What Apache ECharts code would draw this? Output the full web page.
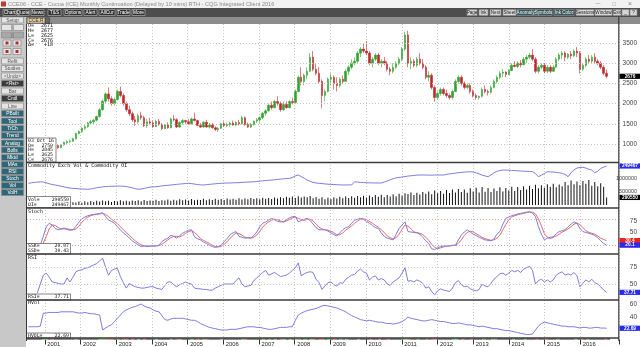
<!DOCTYPE html>
<html><head><meta charset="utf-8">
<script src="https://cdn.jsdelivr.net/npm/echarts@6/dist/echarts.min.js"></script>
<style>html,body{margin:0;padding:0;background:#fff;overflow:hidden}#c{width:640px;height:347px}</style>
</head><body><div id="c"></div>
<script>
// ---------- categories (monthly, Jul 2000 .. Jan 2017) ----------
const months = [];
for (let y = 2000, m = 7; months.length < 199;) { months.push(y + '-' + String(m).padStart(2, '0')); m++; if (m > 12) { m = 1; y++; } }
const yearTicks = ['2001','2002','2003','2004','2005','2006','2007','2008','2009','2010','2011','2012','2013','2014','2015','2016'];

// ---------- price bars [open, high, low, close], Jul 2000 .. Oct 2016 ----------
const candles = [
[860,900,820,840],[840,860,780,800],[800,850,780,830],[830,850,760,790],[790,800,720,740],[740,860,730,850],
[850,1080,840,1050],[1050,1150,1020,1100],[1100,1120,960,990],[990,1020,930,960],[960,980,880,910],[910,1000,900,980],[980,1060,960,1040],[1040,1090,1000,1060],[1060,1110,1020,1070],[1070,1160,1050,1130],[1130,1280,1110,1260],[1260,1340,1230,1310],
[1310,1420,1280,1390],[1390,1480,1350,1430],[1430,1550,1400,1520],[1520,1600,1470,1550],[1550,1620,1480,1590],[1590,1700,1560,1680],[1680,1880,1650,1850],[1850,2100,1820,2060],[2060,2280,2000,2240],[2240,2400,2050,2120],[2120,2180,1950,2000],[2000,2150,1950,2100],
[2100,2350,2080,2300],[2300,2420,2150,2200],[2200,2250,1950,2000],[2000,2050,1800,1850],[1850,1950,1700,1750],[1750,1800,1550,1600],[1600,1700,1450,1550],[1550,1750,1500,1700],[1700,1800,1600,1650],[1650,1700,1420,1450],[1450,1620,1400,1550],[1550,1650,1480,1520],
[1520,1580,1400,1430],[1430,1600,1420,1560],[1560,1620,1450,1480],[1480,1520,1350,1380],[1380,1500,1360,1470],[1470,1540,1380,1400],[1400,1650,1390,1620],[1620,1720,1560,1600],[1600,1640,1400,1420],[1420,1560,1400,1530],[1530,1620,1480,1580],[1580,1600,1500,1550],
[1550,1620,1480,1500],[1500,1650,1480,1620],[1620,1780,1560,1580],[1580,1600,1440,1460],[1460,1520,1400,1420],[1420,1560,1400,1540],[1540,1600,1400,1420],[1420,1520,1380,1470],[1470,1520,1380,1400],[1400,1440,1320,1360],[1360,1420,1300,1390],[1390,1530,1370,1500],
[1500,1560,1420,1460],[1460,1530,1420,1480],[1480,1550,1430,1520],[1520,1580,1450,1470],[1470,1560,1440,1530],[1530,1600,1460,1500],[1500,1700,1480,1650],[1650,1680,1450,1480],[1480,1530,1400,1420],[1420,1520,1400,1480],[1480,1580,1460,1570],[1570,1640,1520,1600],
[1600,1680,1530,1650],[1650,1800,1620,1760],[1760,1860,1700,1820],[1820,2000,1800,1960],[1960,2050,1850,1900],[1900,2100,1880,2050],[2050,2180,1950,2000],[2000,2050,1800,1850],[1850,2050,1820,1980],[1980,2060,1880,1900],[1900,2080,1880,2050],[2050,2150,1980,2030],
[2030,2350,2000,2300],[2300,2700,2280,2650],[2650,2900,2450,2550],[2550,2750,2450,2700],[2700,2900,2600,2800],[2800,3250,2780,3150],[3150,3300,2800,2850],[2850,3000,2700,2750],[2750,2900,2500,2550],[2550,2600,1880,2200],[2200,2350,2050,2300],[2300,2650,2280,2600],
[2600,2750,2450,2650],[2650,2700,2350,2500],[2500,2650,2300,2450],[2450,2650,2400,2600],[2600,2700,2500,2550],[2550,2850,2550,2800],[2800,2950,2700,2900],[2900,3100,2850,3000],[3000,3150,2950,3050],[3050,3300,3000,3250],[3250,3400,3150,3350],[3350,3500,3250,3300],
[3300,3550,3200,3250],[3250,3300,2950,3000],[3000,3150,2900,3100],[3100,3250,3050,3200],[3200,3250,2950,3000],[3000,3100,2900,3050],[3050,3150,2950,3000],[3000,3050,2800,2850],[2850,2900,2700,2800],[2800,3000,2750,2900],[2900,3050,2850,3000],[3000,3150,2950,3100],
[3100,3400,3050,3350],[3350,3780,3300,3700],[3700,3800,2900,3000],[3000,3150,2850,3050],[3050,3100,2900,2950],[2950,3150,2900,3100],[3100,3250,2950,3000],[3000,3100,2850,2900],[2900,2950,2600,2650],[2650,2800,2550,2700],[2700,2750,2350,2400],[2400,2450,2050,2150],
[2150,2300,2100,2250],[2250,2400,2200,2350],[2350,2400,2200,2250],[2250,2350,2150,2200],[2200,2250,2100,2150],[2150,2350,2100,2300],[2300,2600,2280,2550],[2550,2700,2500,2650],[2650,2700,2450,2500],[2500,2550,2350,2400],[2400,2500,2350,2450],[2450,2500,2250,2300],
[2300,2350,2150,2200],[2200,2250,2100,2150],[2150,2200,2100,2180],[2180,2400,2150,2350],[2350,2450,2250,2300],[2300,2350,2200,2280],[2280,2450,2250,2400],[2400,2600,2380,2550],[2550,2700,2500,2650],[2650,2800,2600,2750],[2750,2850,2650,2780],[2780,2800,2650,2720],
[2720,2850,2700,2820],[2820,3000,2800,2950],[2950,3050,2900,2920],[2920,3050,2880,3000],[3000,3080,2900,2960],[2960,3150,2950,3100],[3100,3200,3000,3150],[3150,3250,3100,3200],[3200,3350,3050,3100],[3100,3150,2750,2800],[2800,2950,2750,2900],[2900,3000,2850,2950],
[2950,3000,2750,2800],[2800,2950,2750,2900],[2900,2950,2750,2800],[2800,2950,2780,2900],[2900,3150,2880,3100],[3100,3250,3050,3200],[3200,3300,3100,3250],[3250,3300,3050,3150],[3150,3250,3100,3220],[3220,3300,3100,3180],[3180,3350,3150,3300],[3300,3400,3150,3250],
[3250,3300,2750,2850],[2850,3000,2800,2950],[2950,3150,2900,3100],[3100,3200,3000,3050],[3050,3200,3000,3150],[3150,3250,3000,3050],[3050,3100,2950,3000],[3000,3050,2850,2900],[2900,2950,2700,2750],[2750,2845,2625,2676]
];

// ---------- exchange volume ----------
const volume = [
90e3,110e3,80e3,100e3,120e3,70e3,
110e3,90e3,120e3,100e3,130e3,80e3,120e3,90e3,140e3,110e3,100e3,130e3,
90e3,140e3,110e3,150e3,120e3,160e3,130e3,170e3,140e3,160e3,120e3,150e3,
130e3,180e3,140e3,160e3,130e3,170e3,150e3,180e3,140e3,190e3,150e3,170e3,
160e3,200e3,150e3,180e3,170e3,210e3,160e3,200e3,170e3,220e3,180e3,210e3,
170e3,230e3,180e3,200e3,190e3,240e3,180e3,220e3,190e3,240e3,200e3,230e3,
190e3,250e3,210e3,240e3,200e3,260e3,210e3,250e3,220e3,270e3,230e3,260e3,
220e3,280e3,240e3,270e3,230e3,290e3,250e3,300e3,260e3,320e3,280e3,330e3,
270e3,340e3,290e3,330e3,300e3,350e3,260e3,310e3,240e3,300e3,220e3,280e3,
230e3,300e3,250e3,320e3,260e3,330e3,270e3,340e3,280e3,350e3,300e3,360e3,
290e3,370e3,310e3,380e3,320e3,390e3,300e3,380e3,330e3,410e3,340e3,430e3,
360e3,450e3,420e3,480e3,380e3,470e3,400e3,500e3,430e3,520e3,410e3,560e3,
450e3,540e3,430e3,580e3,460e3,600e3,480e3,620e3,500e3,600e3,470e3,640e3,
520e3,660e3,480e3,690e3,510e3,650e3,500e3,630e3,540e3,680e3,520e3,650e3,
560e3,700e3,540e3,690e3,580e3,720e3,600e3,740e3,620e3,780e3,640e3,760e3,
660e3,800e3,700e3,820e3,680e3,790e3,720e3,880e3,760e3,940e3,800e3,900e3,
760e3,920e3,820e3,960e3,740e3,880e3,720e3,840e3,700e3,290550
];
// ---------- open interest (thousands) ----------
const openInterestK = [
137,140,143,145,147,145,
140,134,129,126,122,118,114,110,106,104,103,101,
100,99,98,100,104,108,111,114,116,117,118,118,
119,119,118,116,112,108,102,98,100,104,108,112,
114,115,117,120,122,124,126,128,130,132,134,136,
137,135,132,129,127,126,128,130,132,134,136,137,
138,139,139,140,141,141,143,144,145,146,147,149,
151,153,155,157,158,160,162,164,166,168,169,175,
185,191,180,170,158,150,143,139,137,135,133,131,
130,129,128,127,126,126,127,126,147,145,143,142,
141,140,140,139,139,139,145,152,160,167,172,175,
178,181,184,186,188,190,191,191,191,190,190,191,
191,191,191,195,198,200,203,206,208,210,211,212,
210,205,198,190,185,180,192,205,215,220,223,223,
222,221,220,218,217,216,215,214,213,200,180,190,
200,212,211,210,208,205,202,195,180,205,225,236,
240,241,236,228,223,205,215,234,242,249.467
];

// ---------- stochastic %K (blue) and %D (red) ----------
const stochK = [
null,null,null,null,20,40,
62,70,66,58,55,57,59,56,54,55,63,72,
80,84,87,89,90,91,92,94,85,77,74,70,
62,55,48,43,36,30,25,21,17,18,17,18,
18,19,20,28,33,36,43,40,36,42,47,51,
54,55,39,35,32,27,24,20,17,15,17,20,
28,35,44,48,51,40,38,36,37,36,42,50,
62,70,73,77,81,78,74,73,73,78,82,85,
85,73,76,79,81,76,68,60,55,55,55,52,
48,44,41,48,55,60,62,70,77,79,81,79,
74,70,65,60,58,48,40,36,34,32,45,58,
66,73,51,50,49,48,45,38,30,24,12,10,
14,17,18,18,19,20,20,32,43,50,55,50,
45,42,38,35,32,31,30,34,45,51,68,81,
84,87,89,91,92,94,95,96,93,85,62,45,
32,36,38,39,46,51,53,55,62,68,73,70,
58,51,49,47,45,42,37,30,24,20.07
];
const stochD = [
null,null,null,null,null,25,
40,57,66,65,60,57,57,57,56,55,57,63,
72,79,84,87,89,90,91,92,90,85,79,74,
69,62,55,49,42,36,30,25,21,19,18,18,
18,18,19,22,27,32,37,40,40,39,42,47,
51,53,49,43,35,31,28,24,20,17,16,17,
22,28,36,42,48,46,43,38,37,36,38,43,
51,61,68,73,77,79,78,75,73,75,78,82,
84,81,78,76,79,79,75,68,61,57,55,54,
52,48,44,44,48,54,59,64,70,75,79,80,
78,74,70,65,61,55,49,41,37,34,37,45,
56,66,63,58,50,49,47,44,38,31,22,15,
12,14,16,18,18,19,20,24,32,42,49,52,
50,46,42,38,35,33,31,32,36,43,55,67,
78,84,87,89,91,92,94,95,95,91,80,64,
46,38,35,38,41,45,50,53,57,62,68,70,
67,60,53,49,47,45,41,36,33,30.43
];

// ---------- RSI ----------
const rsi = [
null,null,null,37,50,63,
66,60,53,52,51,50,50,59,53,60,68,70,
71,73,74,76,78,80,84,88,75,63,70,72,
73,61,52,44,51,48,46,45,44,44,45,46,
46,44,43,42,48,53,53,49,46,49,51,53,
51,50,44,43,43,42,42,41,41,44,46,48,
50,50,50,50,55,59,50,46,47,48,55,59,
63,67,70,63,65,67,64,61,62,63,66,70,
74,81,62,65,67,68,67,57,52,42,47,52,
53,49,47,52,51,57,60,63,64,69,72,68,
66,56,60,62,56,58,56,50,48,53,56,59,
66,74,54,55,53,56,54,51,44,46,39,34,
40,43,41,40,39,44,52,55,49,46,47,43,
41,40,42,50,47,46,51,57,61,65,66,63,
66,70,68,70,67,72,74,76,70,50,55,57,
53,56,53,56,63,66,68,63,65,63,67,62,
46,51,56,53,57,52,50,46,41,37.71
];

// ---------- historical volatility ----------
const hvol = [
25,25,25,25,26,46,
46,47,47,47,47,48,48,48,48,48,47,46,
46,47,46,45,45,44,43,20,23,26,28,33,
38,43,48,51,53,55,56,58,60,57,55,54,
51,49,48,42,36,35,37,38,38,38,38,37,
36,35,35,33,30,28,26,24,23,22,21,20,
20,20,21,21,21,22,23,24,25,25,25,24,
24,23,22,21,21,22,23,24,24,24,25,25,
35,43,46,48,50,51,52,53,55,57,58,57,
56,55,54,52,50,48,45,42,40,38,36,35,
34,35,34,33,32,32,31,30,30,29,30,31,
33,36,40,38,37,36,35,34,34,35,36,35,
34,33,33,32,31,30,30,31,30,29,28,28,
27,26,25,26,25,24,23,22,22,21,20,19,
19,18,17,16,15,14,13,13,14,20,26,30,
32,31,30,29,28,27,26,26,25,25,25,24,
23,24,24,23,23,24,24,23,23,22.69
];

// ---------- texts ----------
const titleText = 'CCE06 - CCE - Cocoa (ICE) Monthly Continuation (Delayed by 10 mins) RTH - CQG Integrated Client 2016';
const topButtons = [['Chart',3,13],['Quote',17,12],['News',31,13],['T&S',48,13],['Options',64,18],['Alert',84,13],['AllCur',99,16],['Trade',117,13],['More',132,13]];
const rightButtons = [['Page',467,10,0],['Ink',479,9,0],['Next',490,11,0],['Sheet',503,13,0],['Anomaly',517,17,1],['Symbols',535,17,1],['Ink Color',554,20,1],['Sessions',576,18,0],['Window',595,17,0],['Exit',613,8,0],['_',622,7,0],['?',630,7,0]];
const sideButtons = [['Setup',20,0],['|||',27.5,0],['||',35,2],['Refit',61,0],['Studies',68.5,0],['<Undo>',76,0],['<Rst>',83.5,1],['Bar',91,0],['Cndl',98.5,1],['Line',106,0],
 ['PBuilt',113.5,3],['Tool',121,3],['TrCh',128.5,3],['Trend',135.5,3],['Analog',143,3],['Bolls',150,3],['Mktd',157.5,3],['MAs',164.5,3],['RSI',171.5,3],['Stoch',178.5,3],['Vol',185.5,3],['VolH',192.5,3]];

// ---------- build ----------
const L = 27, R = 21;
const mono = 'DejaVu Sans Mono';
const isJan = (i, v) => { const s = typeof v === 'string' ? v : months[i]; return s.endsWith('-01') && yearTicks.indexOf(s.slice(0,4)) >= 0; };
function xa(gi, extra) {
  return Object.assign({type:'category', gridIndex:gi, data:months, boundaryGap:true,
    axisLine:{show:false}, axisTick:{show:false}, axisLabel:{show:false}, splitLine:{show:false}}, extra || {});
}
function ya(gi, min, max, interval, shown, fs) {
  return {type:'value', gridIndex:gi, position:'right', min, max, interval, z:5,
    axisLine:{show:false}, axisTick:{show:false}, splitLine:{show:false},
    axisLabel:{show:!!shown, fontSize:fs||6.5, fontFamily:'Liberation Sans', color:'#444', margin:20, align:'right',
      formatter: v => (shown && shown.indexOf(v) >= 0) ? String(v) : ''}};
}
function hl(v, color) { return {yAxis:v, lineStyle:{color, type:[1,2], width:1}}; }
const ml = (arr) => ({silent:true, symbol:'none', label:{show:false}, data:arr, animation:false});

const lav = '#7c7ce2';
const candleData = candles.map(r => [r[0], r[3], r[2], r[1]]);
const stripData = candles.map(r => ({value:1, itemStyle:{color: (r[3]-r[0]) > 100 ? '#2f9a2f' : ((r[0]-r[3]) > 100 ? '#c8282d' : '#111')}}));

const G = [];
function rect(x,y,w,h,fill,stroke,z){G.push({type:'rect',shape:{x,y,width:w,height:h},style:{fill,stroke:stroke||null,lineWidth:stroke?0.7:0},z:z||100,silent:true});}
function txt(x,y,t,fill,size,align,font,weight){G.push({type:'text',x,y,style:{text:t,fill,font:(weight||'normal')+' '+size+'px "'+(font||'Liberation Sans')+'"',align:align||'left',verticalAlign:'middle',textAlign:align||'left',textVerticalAlign:'middle'},z:102,silent:true});}
function ln(x1,y1,x2,y2,stroke,w){G.push({type:'line',shape:{x1,y1,x2,y2},style:{stroke,lineWidth:w||1},z:101,silent:true});}

// title bar + toolbar
rect(0,0,640,8,'#f2f2f2');
rect(1,1.5,5,5,'#c0392b');
txt(8,4.2,titleText,'#8a8a8a',5.6);
txt(598,4,'—','#888',5,'center'); txt(614,4,'□','#888',6,'center'); txt(630,4,'×','#888',7,'center');
rect(0,8,640,9,'#4d4d4d');
topButtons.forEach(b => { rect(b[1],9.5,b[2],6,'#333','#aaa'); txt(b[1]+b[2]/2,12.6,b[0],'#fff',4.8,'center'); });
rightButtons.forEach(b => { rect(b[1],9.5,b[2],6,b[3]?'#3f5660':'#d6d6d6','#888'); txt(b[1]+b[2]/2,12.6,b[0],b[3]?'#dfe':'#222',4.6,'center'); });
// grey band
rect(26,17,614,7,'#8c8c8c');
rect(27,17.8,18,5.4,'#e6caa0','#555'); txt(36,20.6,'CCE.R','#333',4.8,'center');
rect(45.5,17.8,4,5.4,'#666','#444');
// sidebar
rect(0,17,26,330,'#c8c8c8');
sideButtons.forEach(b => {
  const f = b[2]===3 ? '#2e6878' : (b[2]===1 ? '#3c3c3c' : (b[2]===2 ? '#a8a8a8' : '#e4e4e4'));
  const c = (b[2]===1||b[2]===3) ? '#fff' : '#555';
  rect(1.5,b[1]-3,22,6,f,'#8a8a8a'); txt(12.5,b[1]+0.2,b[0],c,4.8,'center');
});
[[3,40],[13,40],[3,48.5],[13,48.5]].forEach(p => { rect(p[0],p[1],8,6,'#e4e4e4','#8a8a8a'); rect(p[0]+2.5,p[1]+1.5,3,3,'#b03030'); });

// panel frames
[162.5,208,254,300,338].forEach(y => ln(26,y,619,y,'#3a3a3a',1.5));
ln(26.5,24,26.5,341,'#3a3a3a',1);
ln(618.8,17,618.8,341,'#3a3a3a',1.2);

// price info (top-left)
[['O=','2671'],['H=','2677'],['L=','2625'],['C=','2676'],['Δ=','+18']].forEach((r,i) => {
  txt(28,26+i*4.8,r[0],'#111',5,'left',mono); txt(53,26+i*4.8,r[1],'#111',5,'right',mono);
});
// last bar box (bottom-left of price)
rect(26.5,138,29.5,24,'#ffffff','#555');
txt(28,141,'03 Oct 16','#111',4.8,'left',mono);
[['O=','2750'],['H=','2845'],['L=','2625'],['C=','2676']].forEach((r,i) => {
  txt(28,145.5+i*4.6,r[0],'#111',4.8,'left',mono); txt(53,145.5+i*4.6,r[1],'#111',4.8,'right',mono);
});
// panel titles and readouts
txt(28,166,'Commodity Exch Vol & Commodity OI','#111',5,'left',mono);
rect(26.5,196.5,44,11,'#ffffff','#555');
txt(28,199.3,'Vol=','#111',4.8,'left',mono); txt(69,199.3,'290550','#111',4.8,'right',mono);
txt(28,204.3,'OI=','#111',4.8,'left',mono); txt(69,204.3,'249467','#111',4.8,'right',mono);
txt(28,211.5,'Stoch','#111',5,'left',mono);
rect(26.5,243.5,44,10.5,'#ffffff','#555');
txt(28,246.2,'SSK=','#111',4.8,'left',mono); txt(69,246.2,'20.07','#111',4.8,'right',mono);
txt(28,251,'SSD=','#111',4.8,'left',mono); txt(69,251,'30.43','#111',4.8,'right',mono);
txt(28,257.5,'RSI','#111',5,'left',mono);
rect(26.5,294,44,6,'#ffffff','#555');
txt(28,297,'RSI=','#111',4.8,'left',mono); txt(69,297,'37.71','#111',4.8,'right',mono);
txt(28,303,'HVol','#111',5,'left',mono);
rect(26.5,333,44,5,'#ffffff','#555');
txt(28,335.6,'HVOL=','#111',4.8,'left',mono); txt(69,335.6,'22.69','#111',4.8,'right',mono);

const option = {
  animation:false,
  backgroundColor:'#ffffff',
  grid:[
    {left:L,right:R,top:22.8,height:141.4},
    {left:L,right:R,top:166,height:39},
    {left:L,right:R,top:210,height:44},
    {left:L,right:R,top:250,height:51},
    {left:L,right:R,top:291,height:52},
    {left:L,right:R,top:338.5,height:2},
    {left:L,right:R,top:24,height:314}
  ],
  xAxis:[
    xa(0), xa(1), xa(2), xa(3), xa(4),
    xa(5,{axisTick:{show:true,interval:isJan,length:5,lineStyle:{color:'#333',width:1}},
      axisLabel:{show:true,interval:isJan,formatter:v=>v.slice(0,4),fontSize:5.8,fontFamily:'Liberation Sans',color:'#222',margin:1.5,align:'left',padding:[0,0,0,1]}}),
    xa(6,{splitLine:{show:true,interval:isJan,lineStyle:{color:'#c4c4c4',type:[1,2],width:1}}})
  ],
  yAxis:[
    ya(0,500,4000,500,[1000,1500,2000,2500,3000,3500]),
    ya(1,0,1500000,500000,[500000,1000000],5.4),
    {type:'value',gridIndex:1,min:-3.994,max:249.467,show:false},
    ya(2,0,100,25,[50,75]),
    ya(3,25,100,25,[50,75]),
    ya(4,0,80,20,[40,60]),
    {type:'value',gridIndex:5,min:0,max:1,show:false},
    {type:'value',gridIndex:6,min:0,max:1,show:false}
  ],
  series:[
    {type:'candlestick',xAxisIndex:0,yAxisIndex:0,data:candleData,barWidth:2,
      itemStyle:{color:'#2fa32f',color0:'#c0262c',borderColor:'#2fa32f',borderColor0:'#c0262c',borderWidth:0.6},
      markLine:ml([1000,1500,2000,2500,3000,3500].map(v=>hl(v,'#c4c4c4')))},
    {type:'bar',xAxisIndex:1,yAxisIndex:1,data:volume,barWidth:1,itemStyle:{color:'#111'}},
    {type:'line',xAxisIndex:1,yAxisIndex:2,data:openInterestK,symbol:'none',lineStyle:{color:lav,width:1}},
    {type:'line',xAxisIndex:2,yAxisIndex:3,data:stochD,symbol:'none',lineStyle:{color:'#e46a6a',width:1},
      markLine:ml([hl(80,'#f0a8a8'),hl(20,'#a0a0f0')])},
    {type:'line',xAxisIndex:2,yAxisIndex:3,data:stochK,symbol:'none',lineStyle:{color:lav,width:1}},
    {type:'line',xAxisIndex:3,yAxisIndex:4,data:rsi,symbol:'none',lineStyle:{color:lav,width:1},
      markLine:ml([hl(75,'#c8c8c8'),hl(50,'#c8c8c8')])},
    {type:'line',xAxisIndex:4,yAxisIndex:5,data:hvol,symbol:'none',lineStyle:{color:lav,width:1}},
    {type:'bar',xAxisIndex:5,yAxisIndex:6,data:stripData,barWidth:'100%',barCategoryGap:0}
  ],
  graphic:{elements:G}
};

const chart = echarts.init(document.getElementById('c'), null, {renderer:'canvas', width:640, height:347});
chart.setOption(option);

// current-value tags on the right, placed through the axes
const last = a => a[a.length-1];
const tags = [
  [0, candles[candles.length-1][3], '#000', String(candles[candles.length-1][3])],
  [2, last(openInterestK), '#2a2af0', '249467'],
  [1, last(volume), '#000', String(last(volume))],
  [3, last(stochD), '#f01e1e', last(stochD).toFixed(1)],
  [3, last(stochK), '#2a2af0', last(stochK).toFixed(1)],
  [4, last(rsi), '#2a2af0', last(rsi).toFixed(2)],
  [5, last(hvol), '#2a2af0', last(hvol).toFixed(2)]
];
const G2 = [];
tags.forEach(t => {
  const y = chart.convertToPixel({yAxisIndex:t[0]}, t[1]);
  G2.push({type:'rect',shape:{x:619.5,y:y-2.6,width:20.5,height:5.2},style:{fill:t[2]},z:110,silent:true});
  G2.push({type:'text',x:630,y:y,style:{text:t[3],fill:'#fff',font:'bold 4.8px "Liberation Sans"',align:'center',verticalAlign:'middle',textAlign:'center',textVerticalAlign:'middle'},z:111,silent:true});
});
chart.setOption({graphic:{elements:G.concat(G2)}}, {replaceMerge:['graphic']});
</script>
</body></html>
